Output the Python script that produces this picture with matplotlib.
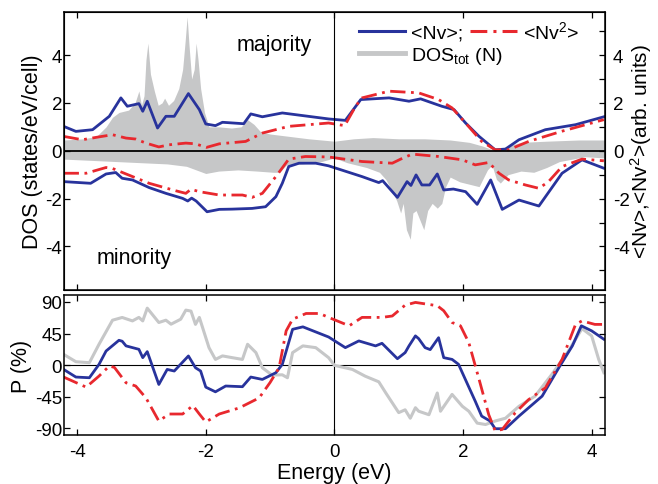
import matplotlib
matplotlib.use("Agg")
from matplotlib import pyplot as plt
from matplotlib.ticker import MultipleLocator
from matplotlib.lines import Line2D

plt.rcParams['font.family'] = 'Liberation Sans'
plt.rcParams['mathtext.fontset'] = 'custom'
plt.rcParams['mathtext.rm'] = 'Liberation Sans'
plt.rcParams['mathtext.it'] = 'Liberation Sans:italic'
plt.rcParams['axes.unicode_minus'] = False
plt.rcParams['lines.solid_joinstyle'] = 'round'

BLUE = '#28339c'
RED = '#e8282e'
GRAY = '#c6c7c8'

# ---- total DOS (shaded), majority / minority
dos_up_x = [-4.2, -3.9, -3.7, -3.55, -3.45, -3.35, -3.2, -3.1, -3.04, -3.0,
            -2.96, -2.93, -2.9, -2.86, -2.8, -2.74, -2.68, -2.64, -2.58, -2.5,
            -2.42, -2.36, -2.32, -2.29, -2.26, -2.22, -2.18, -2.15, -2.12, -2.08,
            -2.02, -1.95, -1.8, -1.6, -1.45, -1.35, -1.25, -1.15, -1.0, -0.7,
            -0.4, 0.0, 0.3, 0.6, 1.0, 1.4, 1.8, 2.1, 2.3, 2.45,
            2.55, 2.7, 2.9, 3.3, 3.8, 4.2]
dos_up = [0.45, 0.5, 0.6, 1.0, 1.4, 1.6, 1.7, 2.0, 2.5, 1.9,
          2.3, 3.8, 4.5, 3.2, 2.5, 1.9, 2.0, 2.2, 1.9, 2.1,
          2.6, 3.4, 4.6, 5.6, 4.4, 3.0, 3.4, 4.5, 3.8, 2.6,
          1.6, 1.0, 1.0, 0.95, 1.0, 1.3, 1.1, 0.8, 0.7, 0.6,
          0.5, 0.4, 0.5, 0.55, 0.5, 0.5, 0.45, 0.35, 0.2, 0.05,
          0.05, 0.2, 0.35, 0.4, 0.45, 0.45]
dos_dn_x = [-4.2, -3.8, -3.4, -3.0, -2.6, -2.3, -2.0, -1.8, -1.5, -1.2,
            -0.95, -0.85, -0.75, -0.5, -0.2, 0.0, 0.2, 0.5, 0.7, 0.8,
            0.9, 0.97, 1.03, 1.07, 1.12, 1.18, 1.22, 1.27, 1.33, 1.39,
            1.45, 1.52, 1.6, 1.67, 1.73, 1.8, 1.95, 2.1, 2.25, 2.38,
            2.45, 2.52, 2.58, 2.7, 2.9, 3.1, 3.3, 3.5, 3.7, 3.9, 4.2]
dos_dn = [-0.35, -0.4, -0.45, -0.5, -0.55, -0.65, -0.95, -0.85, -0.8, -0.85,
          -0.9, -0.9, -0.6, -0.55, -0.45, -0.3, -0.5, -0.7, -0.9, -1.2,
          -1.7, -2.1, -2.6, -2.2, -3.3, -3.7, -2.6, -2.5, -2.9, -3.3,
          -2.5, -2.2, -2.4, -2.2, -1.5, -1.1, -1.3, -1.4, -1.5, -0.8,
          -0.6, -1.2, -1.35, -1.0, -0.85, -0.9, -0.7, -0.45, -0.35, -0.25, -0.3]

# ---- <Nv> majority / minority
nv_up_x = [-4.21, -4.02, -3.76, -3.5, -3.32, -3.22, -3.04, -2.98, -2.91, -2.75,
           -2.62, -2.49, -2.27, -2.1, -2.0, -1.85, -1.74, -1.41, -1.3, -1.12,
           -0.81, -0.09, 0.17, 0.41, 0.85, 1.16, 1.34, 1.67, 1.86, 2.04,
           2.25, 2.5, 2.66, 2.87, 3.28, 3.75, 4.19]
nv_up = [1.02, 0.81, 0.88, 1.44, 2.21, 1.86, 1.97, 1.65, 2.07, 0.95,
         1.44, 1.44, 2.39, 1.72, 1.12, 1.05, 1.19, 1.13, 1.54, 1.42,
         1.58, 1.33, 1.27, 2.14, 2.21, 2.07, 2.17, 1.86, 1.72, 1.16,
         0.60, 0.04, 0.07, 0.46, 0.88, 1.09, 1.42]
nv_dn_x = [-4.21, -3.97, -3.79, -3.55, -3.40, -3.30, -3.14, -2.88, -2.62, -2.36,
           -2.28, -2.22, -2.15, -1.98, -1.79, -1.59, -1.28, -1.07, -0.91, -0.81,
           -0.71, -0.55, -0.29, -0.09, 0.43, 0.69, 0.75, 0.98, 1.13, 1.19,
           1.27, 1.36, 1.48, 1.60, 1.70, 1.85, 2.04, 2.22, 2.43, 2.61,
           2.87, 3.18, 3.54, 3.85, 4.19]
nv_dn = [-1.29, -1.33, -1.36, -0.97, -0.91, -1.15, -1.22, -1.54, -1.78, -1.99,
         -2.1, -1.98, -2.1, -2.55, -2.45, -2.44, -2.41, -2.34, -1.92, -1.36,
         -0.66, -0.52, -0.52, -0.63, -1.08, -1.33, -1.25, -1.95, -1.29, -1.45,
         -1.01, -1.43, -1.43, -0.97, -1.64, -1.6, -1.71, -2.24, -1.22, -2.45,
         -2.06, -2.31, -0.94, -0.38, -0.73]

# ---- <Nv^2> majority / minority
nv2_up_x = [-4.21, -3.92, -3.66, -3.45, -3.24, -3.09, -2.93, -2.73, -2.57, -2.31,
            -2.16, -1.99, -1.79, -1.38, -1.12, -0.71, -0.09, 0.16, 0.33, 0.43,
            0.85, 1.31, 1.62, 1.83, 2.04, 2.29, 2.5, 2.71, 3.02, 3.53, 4.19]
nv2_up = [0.60, 0.46, 0.58, 0.67, 0.53, 0.49, 0.32, 0.16, 0.25, 0.32,
          0.29, 0.14, 0.29, 0.39, 0.74, 1.02, 1.16, 1.05, 1.86, 2.21,
          2.49, 2.42, 2.14, 1.79, 1.16, 0.39, 0.04, 0.04, 0.39, 0.81, 1.30]
nv2_dn_x = [-4.21, -3.86, -3.55, -3.45, -3.24, -2.88, -2.47, -2.31, -2.23, -2.10,
            -1.79, -1.43, -1.28, -1.12, -0.91, -0.71, -0.45, -0.09, 0.43, 0.90,
            1.03, 1.21, 1.62, 1.99, 2.19, 2.40, 2.56, 2.71, 2.97, 3.18,
            3.33, 3.54, 3.85, 4.19]
nv2_dn = [-0.94, -0.94, -0.70, -0.74, -0.97, -1.36, -1.67, -1.78, -1.61, -1.71,
          -1.85, -1.85, -1.95, -1.78, -1.08, -0.35, -0.24, -0.26, -0.45, -0.52,
          -0.35, -0.14, -0.24, -0.38, -0.59, -0.49, -0.94, -1.22, -1.43, -1.57,
          -1.29, -0.66, -0.35, -0.42]

# ---- spin polarisation P (%)
p_dos_x = [-4.21, -4.02, -3.81, -3.66, -3.45, -3.30, -3.14, -3.04, -2.98, -2.91,
           -2.73, -2.62, -2.54, -2.39, -2.31, -2.23, -2.16, -2.10, -1.95, -1.85,
           -1.74, -1.59, -1.43, -1.35, -1.22, -1.12, -0.97, -0.81, -0.73, -0.65,
           -0.49, -0.29, -0.09, 0.0, 0.28, 0.48, 0.69, 0.80, 1.00, 1.10,
           1.18, 1.26, 1.31, 1.47, 1.60, 1.65, 1.83, 1.99, 2.09, 2.22,
           2.35, 2.50, 2.66, 2.87, 3.12, 3.38, 3.64, 3.85, 4.00, 4.11, 4.19]
p_dos = [15.2, 4.7, 3.3, 29.6, 64, 67.9, 63, 68, 63, 81.2,
         60.7, 64, 58.3, 65.4, 78.4, 77, 58, 68, 24.8, 8,
         13, 10.5, 8, 29.6, 17.7, -3.9, -14.4, -14, -18.2, 17.7,
         27.3, 24.8, 10.5, -0.5, -6.3, -16, -24, -40, -68, -64,
         -76, -61, -66, -71, -40, -66, -42, -59, -66, -83,
         -85, -80, -76, -59, -44.5, -13.5, 20, 52, 41.6, 8, -11]
p_nv_x = [-4.21, -4.02, -3.81, -3.66, -3.55, -3.35, -3.30, -3.24, -3.04, -2.98,
          -2.91, -2.73, -2.60, -2.49, -2.27, -2.16, -2.08, -2.00, -1.85, -1.69,
          -1.43, -1.30, -1.12, -0.91, -0.81, -0.65, -0.49, -0.09, 0.17, 0.38,
          0.64, 0.74, 0.98, 1.10, 1.16, 1.26, 1.31, 1.41, 1.49, 1.62,
          1.70, 1.83, 1.93, 2.06, 2.19, 2.29, 2.42, 2.50, 2.66, 2.87,
          3.23, 3.49, 3.70, 3.84, 4.00, 4.19]
p_nv = [-6.3, -17.2, -18.2, 0.9, 20, 35.3, 34, 27.3, 22.4, 10.5,
        19.1, -27.8, -6.3, -8.6, 12.9, -3.9, -8.6, -31.6, -38.3, -30,
        -31, -17.2, -20.6, -11, 0.9, 51, 54.5, 40, 24.8, 34.4,
        27.3, 31, 9, 17.7, 27.3, 41.6, 37.7, 24.8, 22, 39,
        10.5, 8, 1, -25.4, -51.7, -73, -80, -91, -91, -73,
        -44.5, -3.9, 27.3, 56, 48.8, 36.8]
p_nv2_x = [-4.21, -3.86, -3.66, -3.50, -3.42, -3.24, -3.09, -2.93, -2.73, -2.57,
           -2.36, -2.20, -2.10, -2.00, -1.79, -1.48, -1.17, -1.00, -0.86, -0.75,
           -0.65, -0.44, -0.23, -0.09, 0.23, 0.43, 0.74, 0.90, 1.10, 1.26,
           1.60, 1.70, 1.83, 1.96, 2.09, 2.25, 2.40, 2.50, 2.61, 2.81,
           3.02, 3.28, 3.54, 3.75, 3.85, 4.05, 4.19]
p_nv2 = [-17.2, -31.6, -15.8, -1.4, -3.5, -25.4, -30, -47, -80, -70,
         -70, -58, -70, -81.4, -70, -61.3, -47, -25, -3.9, 48.8,
         65.4, 73.6, 73.6, 68, 56, 68, 68, 70, 85.5, 89.4,
         84.7, 77.5, 60.7, 56, 32, -20.6, -71, -94, -92, -68.5,
         -49.4, -32.6, 8, 58, 63, 58, 58]

DASHDOT = (0, (5.5, 2.0, 1.0, 2.0))

fig = plt.figure(figsize=(6.58, 4.85), dpi=100)
ax1 = fig.add_axes([0.0977, 0.401, 0.8210, 0.5722])
ax2 = fig.add_axes([0.0977, 0.101, 0.8210, 0.2887])


def style_axes(ax):
    for sp in ax.spines.values():
        sp.set_linewidth(1.1)
    ax.tick_params(direction='in', length=4, width=0.9, top=True,
                   labelsize=13.5, pad=1.5)


# ---------- top panel: DOS
ax1.fill_between(dos_up_x, 0, dos_up, color=GRAY, lw=0)
ax1.fill_between(dos_dn_x, 0, dos_dn, color=GRAY, lw=0)
ax1.plot(nv_up_x, nv_up, color=BLUE, lw=2.0)
ax1.plot(nv_dn_x, nv_dn, color=BLUE, lw=2.0)
ax1.plot(nv2_up_x, nv2_up, color=RED, lw=2.0, ls=DASHDOT)
ax1.plot(nv2_dn_x, nv2_dn, color=RED, lw=2.0, ls=DASHDOT)
ax1.axhline(0, color='black', lw=1.3, zorder=3)
ax1.axvline(0, color='black', lw=0.8, zorder=3)
ax1.set_xlim(-4.2, 4.2)
ax1.set_ylim(-5.8, 5.8)
ax1.set_xticks([-4, -2, 0, 2, 4])
ax1.set_yticks([-4, -2, 0, 2, 4])
style_axes(ax1)
ax1.tick_params(labelbottom=False)
ax1.set_ylabel('DOS (states/eV/cell)', fontsize=15.5, labelpad=2)
ax1.text(-0.94, 4.45, 'majority', fontsize=15.5, ha='center', va='center')
ax1.text(-3.12, -4.45, 'minority', fontsize=15.5, ha='center', va='center')

axr = ax1.twinx()
axr.set_ylim(-5.8, 5.8)
axr.set_yticks([-4, -2, 0, 2, 4])
axr.yaxis.set_minor_locator(MultipleLocator(1))
axr.tick_params(direction='in', length=4, width=0.9, labelsize=13.5, pad=6)
axr.tick_params(which='minor', direction='in', length=4, width=0.9)
axr.set_ylabel('<Nv>,<Nv$^2$>(arb. units)', fontsize=15, labelpad=-1)

h_nv = Line2D([], [], color=BLUE, lw=2.2)
h_nv2 = Line2D([], [], color=RED, lw=2.2, ls=DASHDOT)
h_dos = Line2D([], [], color=GRAY, lw=3.5)
leg1 = ax1.legend([h_nv, h_nv2], ['<Nv>;', '<Nv$^2$>'], ncol=2,
                  loc='center left', bbox_to_anchor=(0.545, 0.9315),
                  frameon=False, fontsize=14, handlelength=2.4,
                  handletextpad=0.3, columnspacing=0.35, borderpad=0,
                  borderaxespad=0)
ax1.add_artist(leg1)
ax1.legend([h_dos], ['DOS$_\\mathrm{tot}$ (N)'],
           loc='center left', bbox_to_anchor=(0.545, 0.845),
           frameon=False, fontsize=14, handlelength=2.4,
           handletextpad=0.3, borderpad=0, borderaxespad=0)

# ---------- bottom panel: polarisation
ax2.plot(p_dos_x, p_dos, color=GRAY, lw=2.2)
ax2.plot(p_nv_x, p_nv, color=BLUE, lw=2.0)
ax2.plot(p_nv2_x, p_nv2, color=RED, lw=2.0, ls=DASHDOT)
ax2.axhline(0, color='black', lw=0.8, zorder=0.5)
ax2.axvline(0, color='black', lw=0.8, zorder=0.5)
ax2.set_xlim(-4.2, 4.2)
ax2.set_ylim(-100, 100)
ax2.set_xticks([-4, -2, 0, 2, 4])
ax2.set_yticks([-90, -45, 0, 45, 90])
style_axes(ax2)
ax2.tick_params(right=True)
ax2.tick_params(axis='x', pad=6)
ax2.set_xlabel('Energy (eV)', fontsize=15.5, labelpad=1)
ax2.set_ylabel('P (%)', fontsize=15.5, labelpad=2)

fig.savefig('out.png', dpi=100)
